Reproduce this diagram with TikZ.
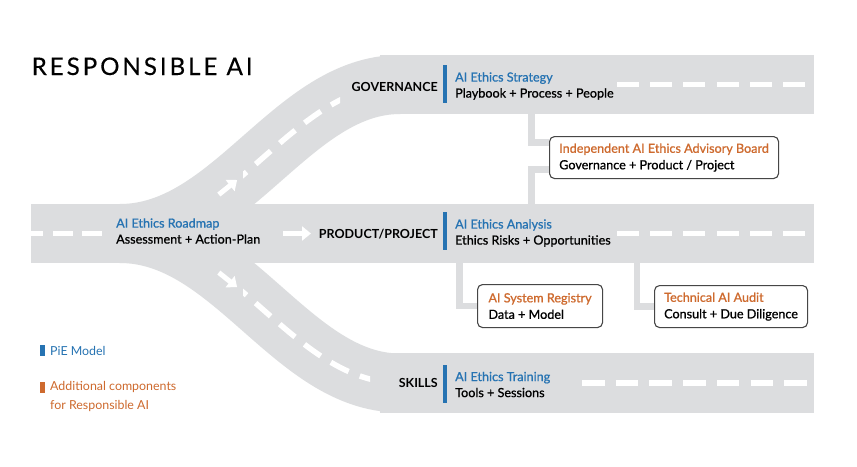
\documentclass[tikz,border=0pt]{standalone}
\usepackage{fontspec}
\setmainfont{Lato}
\newfontfamily\semib[FakeBold=0.9]{Lato}
\newfontfamily\titlefont[LetterSpace=12,FakeBold=0.3]{Lato}
\usetikzlibrary{arrows.meta}
\definecolor{road}{RGB}{220,221,223}
\definecolor{pieblue}{RGB}{38,115,178}
\definecolor{addorange}{RGB}{206,106,46}
\definecolor{boxline}{RGB}{70,70,70}
\tikzset{
  roadbox/.style={fill=road, inner sep=0, minimum height=59pt},
  roadcurve/.style={draw=road, line width=59pt},
  lanedash/.style={draw=white, line width=5.5pt},
  lanearrow/.style={draw=white, line width=5pt, -{Triangle[width=14pt,length=9pt]}},
  lbl/.style={anchor=west, inner sep=0, align=left, font=\semib\fontsize{12.6}{16}\selectfont},
  head/.style={anchor=east, inner sep=0, font=\bfseries\fontsize{12.5}{15}\selectfont},
  piebar/.style={fill=pieblue},
  addbar/.style={fill=addorange},
  compbox/.style={draw=boxline, line width=1.1pt, rounded corners=5pt, fill=white, anchor=north west,
     align=left, inner sep=0, font=\semib\fontsize{12.6}{16.5}\selectfont},
  conn/.style={draw=road, line width=7pt},
  legend/.style={anchor=west, inner sep=0, align=left, font=\fontsize{12.4}{19.5}\selectfont}
}
\begin{document}
\begin{tikzpicture}[x=1pt,y=-1pt]
\useasboundingbox (0,0) rectangle (857,466);
\fill[white] (0,0) rectangle (857,466);
% roads
\node[roadbox, minimum width=783pt] (mid) at (422.5,233.5) {};
\node[roadbox, minimum width=434pt] (gov) at (597,84.5) {};
\node[roadbox, minimum width=434pt, minimum height=60pt] (skl) at (597,383) {};
\draw[roadcurve] (120,233.5) .. controls (232,233.5) and (292,84.5) .. (400,84.5)
   coordinate[pos=0.335] (ua) coordinate[pos=0.405] (ub);
\draw[roadcurve] (120,233.5) .. controls (232,233.5) and (292,383) .. (400,383)
   coordinate[pos=0.335] (da) coordinate[pos=0.405] (db);
% lane dashes on curves
\begin{scope}
\clip (243,0) rectangle (340,200);
\draw[lanedash, dash pattern=on 20pt off 12pt, dash phase=4pt] (120,233.5) .. controls (232,233.5) and (292,84.5) .. (400,84.5);
\end{scope}
\begin{scope}
\clip (243,270) rectangle (370,466);
\draw[lanedash, dash pattern=on 20pt off 12pt, dash phase=4pt] (120,233.5) .. controls (232,233.5) and (292,383) .. (400,383);
\end{scope}
\draw[lanearrow] (ua) -- (ub);
\draw[lanearrow] (da) -- (db);
% straight lane dashes
\draw[lanedash, dash pattern=on 20pt off 9.5pt, dash phase=7.5pt] (mid.west) -- (102,233.5);
\draw[lanearrow] (283,233.5) -- (311,233.5);
\draw[lanedash, dash pattern=on 22pt off 11.2pt] (617,84.5) -- (805,84.5);
\draw[lanedash, dash pattern=on 22pt off 11.2pt] (617,233.5) -- (806,233.5);
\draw[lanedash, dash pattern=on 22.5pt off 11.2pt] (582,383) -- (807,383);
% title
\node[anchor=base west, inner sep=0, font=\titlefont\fontsize{24.2}{26}\selectfont] (title) at (31.5,75) {RESPONSIBLE AI};
% road headings
\node[head] (hgov) at (438,87) {GOVERNANCE};
\node[head] (hmid) at (438,234) {PRODUCT/PROJECT};
\node[head] (hskl) at (438,383) {SKILLS};
\fill[piebar] (443,65) rectangle (447,103);
\fill[piebar] (443,212) rectangle (447,250);
\fill[piebar] (443,365) rectangle (447,403);
% labels
\node[lbl] (road) at (116,231) {\textcolor{pieblue}{AI Ethics Roadmap}\\Assessment + Action-Plan};
\node[lbl] (strat) at (455,86) {\textcolor{pieblue}{AI Ethics Strategy}\\Playbook + Process + People};
\node[lbl] (anal) at (455,233) {\textcolor{pieblue}{AI Ethics Analysis}\\Ethics Risks + Opportunities};
\node[lbl] (train) at (455,384.5) {\textcolor{pieblue}{AI Ethics Training}\\Tools + Sessions};
% component boxes
\node[compbox, minimum width=229pt, minimum height=42pt] (board) at (549,136)
  {\textcolor{addorange}{Independent AI Ethics Advisory Board}\\Governance + Product / Project};
\node[compbox, minimum width=125pt, minimum height=43pt] (reg) at (477,284)
  {\textcolor{addorange}{AI System Registry}\\Data + Model};
\node[compbox, minimum width=153pt, minimum height=42pt] (audit) at (654,285)
  {\textcolor{addorange}{Technical AI Audit}\\Consult + Due Diligence};
% connectors
\coordinate (bx) at (531,0);
\coordinate (rx) at (459.5,0);
\coordinate (ax) at (637,0);
\draw[conn] (gov.south -| bx) |- ([yshift=15.5pt]board.west);
\draw[conn] (mid.north -| bx) |- ([yshift=-11.5pt]board.west);
\draw[conn, line width=6.5pt] (mid.south -| rx) |- (reg.west);
\draw[conn, line width=6.5pt] (mid.south -| ax) |- (audit.west);
% legend
\fill[piebar] (40,345) rectangle (44.5,356);
\node[legend, text=pieblue] (lg1) at (50,351) {PiE Model};
\fill[addbar] (40,382) rectangle (44.5,393);
\node[legend, text=addorange, anchor=north west] (lg2) at (50,381) {Additional components\\for Responsible AI};
\end{tikzpicture}
\end{document}
